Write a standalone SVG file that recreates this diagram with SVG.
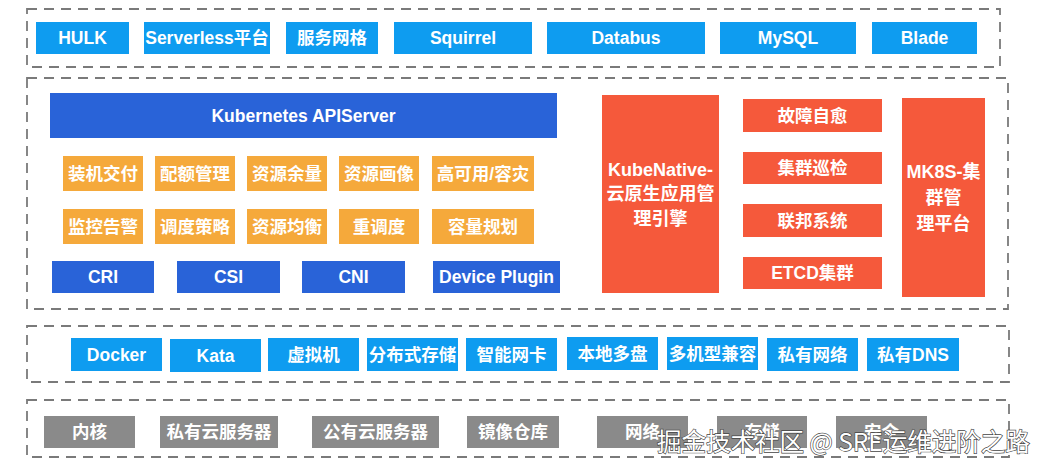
<svg xmlns="http://www.w3.org/2000/svg" width="1053" height="475" viewBox="0 0 1053 475">
<style>
.frame{fill:none;stroke:#7a7a7a;stroke-width:1.8;stroke-dasharray:10 7}
.lb{fill:#0e9cf0}
.db{fill:#2963d8}
.or{fill:#f5a93b}
.rd{fill:#f5593b}
.gy{fill:#8a8a8a}
text{font-family:"Liberation Sans","Noto Sans CJK SC",sans-serif;font-weight:bold;font-size:17.5px;fill:#fff;text-anchor:middle}
.big{font-size:18px}
.wm{font-family:"Noto Sans CJK SC","Liberation Sans",sans-serif;font-weight:normal;font-size:24.5px;fill:#fff;stroke:#444;stroke-width:1.3;paint-order:stroke;text-anchor:start}
</style>
<rect width="1053" height="475" fill="#fff"/>
<g id="frames">
<rect class="frame" x="27" y="9" width="973" height="58"/>
<rect class="frame" x="27" y="78" width="981" height="231"/>
<rect class="frame" x="27" y="326" width="982" height="56"/>
<rect class="frame" x="27" y="400" width="982" height="57"/>
</g>
<g id="connectors"></g>
<g id="top-layer">
<g id="hulk"><rect class="lb" x="36" y="22" width="93" height="32"/><text x="82.5" y="44">HULK</text></g>
<g id="serverless"><rect class="lb" x="144" y="22" width="126" height="32"/><text x="207" y="44">Serverless平台</text></g>
<g id="mesh"><rect class="lb" x="286" y="22" width="92" height="32"/><text x="332" y="44">服务网格</text></g>
<g id="squirrel"><rect class="lb" x="394" y="22" width="138" height="32"/><text x="463" y="44">Squirrel</text></g>
<g id="databus"><rect class="lb" x="547" y="22" width="158" height="32"/><text x="626" y="44">Databus</text></g>
<g id="mysql"><rect class="lb" x="720" y="22" width="136" height="32"/><text x="788" y="44">MySQL</text></g>
<g id="blade"><rect class="lb" x="872" y="22" width="105" height="32"/><text x="924.5" y="44">Blade</text></g>
</g>
<g id="k8s-layer">
<g id="apiserver"><rect class="db" x="50" y="93" width="507" height="45"/><text x="303.5" y="121.5">Kubernetes APIServer</text></g>
<g id="o1"><rect class="or" x="63" y="156" width="80" height="35"/><text x="103" y="179.5">装机交付</text></g>
<g id="o2"><rect class="or" x="155" y="156" width="80" height="35"/><text x="195" y="179.5">配额管理</text></g>
<g id="o3"><rect class="or" x="247" y="156" width="80" height="35"/><text x="287" y="179.5">资源余量</text></g>
<g id="o4"><rect class="or" x="339" y="156" width="80" height="35"/><text x="379" y="179.5">资源画像</text></g>
<g id="o5"><rect class="or" x="432" y="156" width="102" height="35"/><text x="483" y="179.5">高可用/容灾</text></g>
<g id="o6"><rect class="or" x="63" y="209" width="80" height="35"/><text x="103" y="232.5">监控告警</text></g>
<g id="o7"><rect class="or" x="155" y="209" width="80" height="35"/><text x="195" y="232.5">调度策略</text></g>
<g id="o8"><rect class="or" x="247" y="209" width="80" height="35"/><text x="287" y="232.5">资源均衡</text></g>
<g id="o9"><rect class="or" x="339" y="209" width="80" height="35"/><text x="379" y="232.5">重调度</text></g>
<g id="o10"><rect class="or" x="432" y="209" width="102" height="35"/><text x="483" y="232.5">容量规划</text></g>
<g id="cri"><rect class="db" x="52" y="261" width="102" height="32"/><text x="103" y="283">CRI</text></g>
<g id="csi"><rect class="db" x="177" y="261" width="103" height="32"/><text x="228.5" y="283">CSI</text></g>
<g id="cni"><rect class="db" x="302" y="261" width="103" height="32"/><text x="353.5" y="283">CNI</text></g>
<g id="device"><rect class="db" x="433" y="261" width="127" height="32"/><text x="496.5" y="283">Device Plugin</text></g>
<g id="kubenative"><rect class="rd" x="602" y="95" width="117" height="198"/>
<text class="big" x="660.5" y="175.5">KubeNative-</text>
<text class="big" x="660.5" y="200">云原生应用管</text>
<text class="big" x="660.5" y="224.5">理引擎</text></g>
<g id="selfheal"><rect class="rd" x="743" y="99" width="139" height="33"/><text x="812.5" y="121.5">故障自愈</text></g>
<g id="inspect"><rect class="rd" x="743" y="152" width="139" height="32"/><text x="812.5" y="174">集群巡检</text></g>
<g id="federation"><rect class="rd" x="743" y="204" width="139" height="33"/><text x="812.5" y="226.5">联邦系统</text></g>
<g id="etcd"><rect class="rd" x="743" y="257" width="139" height="32"/><text x="812.5" y="279">ETCD集群</text></g>
<g id="mk8s"><rect class="rd" x="902" y="98" width="83" height="199"/>
<text class="big" x="943.5" y="177.5">MK8S-集</text>
<text class="big" x="943.5" y="204">群管</text>
<text class="big" x="943.5" y="230">理平台</text></g>
</g>
<g id="runtime-layer">
<g id="docker"><rect class="lb" x="71" y="338" width="91" height="33"/><text x="116.5" y="360.5">Docker</text></g>
<g id="kata"><rect class="lb" x="170" y="339" width="91" height="33"/><text x="215.5" y="361.5">Kata</text></g>
<g id="vm"><rect class="lb" x="268" y="338" width="91" height="33"/><text x="313.5" y="360.5">虚拟机</text></g>
<g id="dstorage"><rect class="lb" x="367" y="338" width="91" height="33"/><text x="412.5" y="360.5">分布式存储</text></g>
<g id="smartnic"><rect class="lb" x="466" y="338" width="91" height="33"/><text x="511.5" y="360.5">智能网卡</text></g>
<g id="localdisk"><rect class="lb" x="567" y="337" width="91" height="33"/><text x="612.5" y="359.5">本地多盘</text></g>
<g id="multimodel"><rect class="lb" x="667" y="337" width="91" height="33"/><text x="712.5" y="359.5">多机型兼容</text></g>
<g id="privnet"><rect class="lb" x="767" y="338" width="91" height="33"/><text x="812.5" y="360.5">私有网络</text></g>
<g id="privdns"><rect class="lb" x="867" y="338" width="92" height="33"/><text x="913" y="360.5">私有DNS</text></g>
</g>
<g id="infra-layer">
<g id="kernel"><rect class="gy" x="44" y="416" width="91" height="32"/><text x="89.5" y="438">内核</text></g>
<g id="privcloud"><rect class="gy" x="160" y="416" width="118" height="32"/><text x="219" y="438">私有云服务器</text></g>
<g id="pubcloud"><rect class="gy" x="312" y="416" width="127" height="32"/><text x="375.5" y="438">公有云服务器</text></g>
<g id="registry"><rect class="gy" x="467" y="416" width="92" height="32"/><text x="513" y="438">镜像仓库</text></g>
<g id="network"><rect class="gy" x="597" y="416" width="91" height="32"/><text x="642.5" y="438">网络</text></g>
<g id="storage"><rect class="gy" x="717" y="416" width="90" height="32"/><text x="762" y="438">存储</text></g>
<g id="security"><rect class="gy" x="836" y="416" width="91" height="32"/><text x="881.5" y="438">安全</text></g>
</g>
<text class="wm" x="657" y="451">掘金技术社区 @ SRE运维进阶之路</text>
</svg>
